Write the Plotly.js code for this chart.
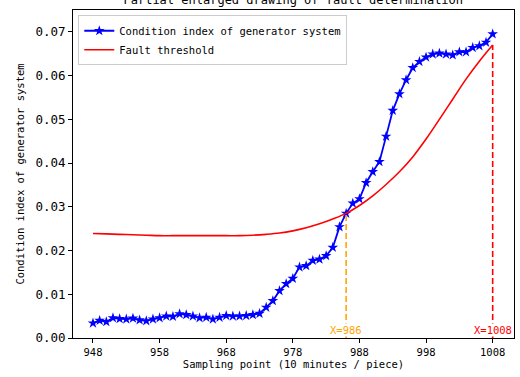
<!DOCTYPE html>
<html><head><meta charset="utf-8">
<script src="https://cdn.plot.ly/plotly-3.0.1.min.js"></script>
<style>html,body{margin:0;padding:0;background:#fff}#c{width:520px;height:377px}</style>
</head><body><div id="c"></div>
<script>
const samplePoints = [948,949,950,951,952,953,954,955,956,957,958,959,960,961,962,963,964,965,966,967,968,969,970,971,972,973,974,975,976,977,978,979,980,981,982,983,984,985,986,987,988,989,990,991,992,993,994,995,996,997,998,999,1000,1001,1002,1003,1004,1005,1006,1007,1008];
const conditionIndex = [0.0034,0.0040,0.0037,0.0046,0.0044,0.0043,0.0045,0.0041,0.0039,0.0043,0.0046,0.0050,0.0049,0.0055,0.0053,0.0050,0.0046,0.0047,0.0043,0.0047,0.0051,0.0050,0.0050,0.0051,0.0053,0.0056,0.0070,0.0085,0.0108,0.0124,0.0136,0.0162,0.0165,0.0177,0.0180,0.0188,0.0207,0.0254,0.0285,0.0308,0.0318,0.0355,0.0380,0.0403,0.0461,0.0520,0.0558,0.0590,0.0618,0.0632,0.0642,0.0649,0.0651,0.0649,0.0647,0.0654,0.0654,0.0664,0.0668,0.0676,0.0695];
const thresholdX = [948,950,952,954,956,958,960,962,964,966,968,970,972,974,976,978,980,982,984,986,988,990,992,994,996,998,1000,1002,1004,1006,1008];
const thresholdY = [0.0239,0.0238,0.0237,0.0236,0.0235,0.0234,0.0234,0.0234,0.0234,0.0234,0.0234,0.0234,0.0235,0.0237,0.0240,0.0245,0.0252,0.0261,0.0272,0.0285,0.0303,0.0325,0.0351,0.0380,0.0414,0.0455,0.0500,0.0546,0.0592,0.0633,0.0670];
const faultStartX = 986, faultStartY = 0.0285;
const faultEndX = 1008, faultEndY = 0.0670;
const xTicks = [948,958,968,978,988,998,1008];
const yTicks = [0,0.01,0.02,0.03,0.04,0.05,0.06,0.07];
const yTickText = ["0.00","0.01","0.02","0.03","0.04","0.05","0.06","0.07"];

const mono = "DejaVu Sans Mono, Liberation Mono, monospace";
const traces = [
  {x: samplePoints, y: conditionIndex, type:'scatter', mode:'lines+markers',
   name:'Condition index of generator system',
   line:{color:'#0000ff', width:1.8}, marker:{symbol:'star', size:8, color:'#0000ff'}},
  {x: thresholdX, y: thresholdY, type:'scatter', mode:'lines', name:'Fault threshold',
   line:{color:'#ff0000', width:1.6, shape:'spline'}},
  {x:[faultStartX, faultStartX], y:[0, faultStartY], type:'scatter', mode:'lines', showlegend:false,
   line:{color:'orange', width:1.6, dash:'6px,3px'}},
  {x:[faultEndX, faultEndX], y:[0, faultEndY], type:'scatter', mode:'lines', showlegend:false,
   line:{color:'#ff0000', width:1.6, dash:'6px,3px'}}
];
const layout = {
  width:520, height:377,
  margin:{l:73, r:6, t:10, b:39},
  paper_bgcolor:'#fff', plot_bgcolor:'#fff',
  font:{family:mono, color:'#000', size:11},
  title:{text:'Partial enlarged drawing of fault determination', font:{family:mono, size:12, color:'#000'},
         x:0.564, xanchor:'center', yref:'container', y:1.0, yanchor:'middle'},
  xaxis:{range:[945,1011.2], tickvals:xTicks, ticktext:xTicks.map(String), showgrid:false, zeroline:false,
         showline:true, linecolor:'#000', linewidth:1, mirror:true, ticks:'outside', ticklen:4, tickcolor:'#000',
         tickfont:{family:mono, size:10.5},
         title:{text:'Sampling point (10 minutes / piece)', font:{family:mono, size:10.5}, standoff:4}},
  yaxis:{range:[0,0.075], tickvals:yTicks, ticktext:yTickText, showgrid:false, zeroline:false,
         showline:true, linecolor:'#000', linewidth:1, mirror:true, ticks:'outside', ticklen:4, tickcolor:'#000',
         tickfont:{family:mono, size:12.5},
         title:{text:'Condition index of generator system', font:{family:mono, size:10.5}, standoff:8}},
  legend:{x:0.012, y:0.984, xanchor:'left', yanchor:'top', bgcolor:'#fff', bordercolor:'#cccccc', borderwidth:1,
          font:{family:mono, size:10.5}, tracegroupgap:0, itemwidth:30},
  annotations:[
    {x:faultStartX, y:0, xref:'x', yref:'y', text:'X='+faultStartX, showarrow:false, yanchor:'bottom', yshift:1,
     bgcolor:'#fff', borderpad:0, font:{family:mono, size:10.5, color:'orange'}},
    {x:faultEndX, y:0, xref:'x', yref:'y', text:'X='+faultEndX, showarrow:false, yanchor:'bottom', yshift:1,
     bgcolor:'#fff', borderpad:0, font:{family:mono, size:10.5, color:'#ff0000'}}
  ],
  showlegend:true
};
Plotly.newPlot('c', traces, layout, {staticPlot:true, displayModeBar:false});
</script></body></html>
